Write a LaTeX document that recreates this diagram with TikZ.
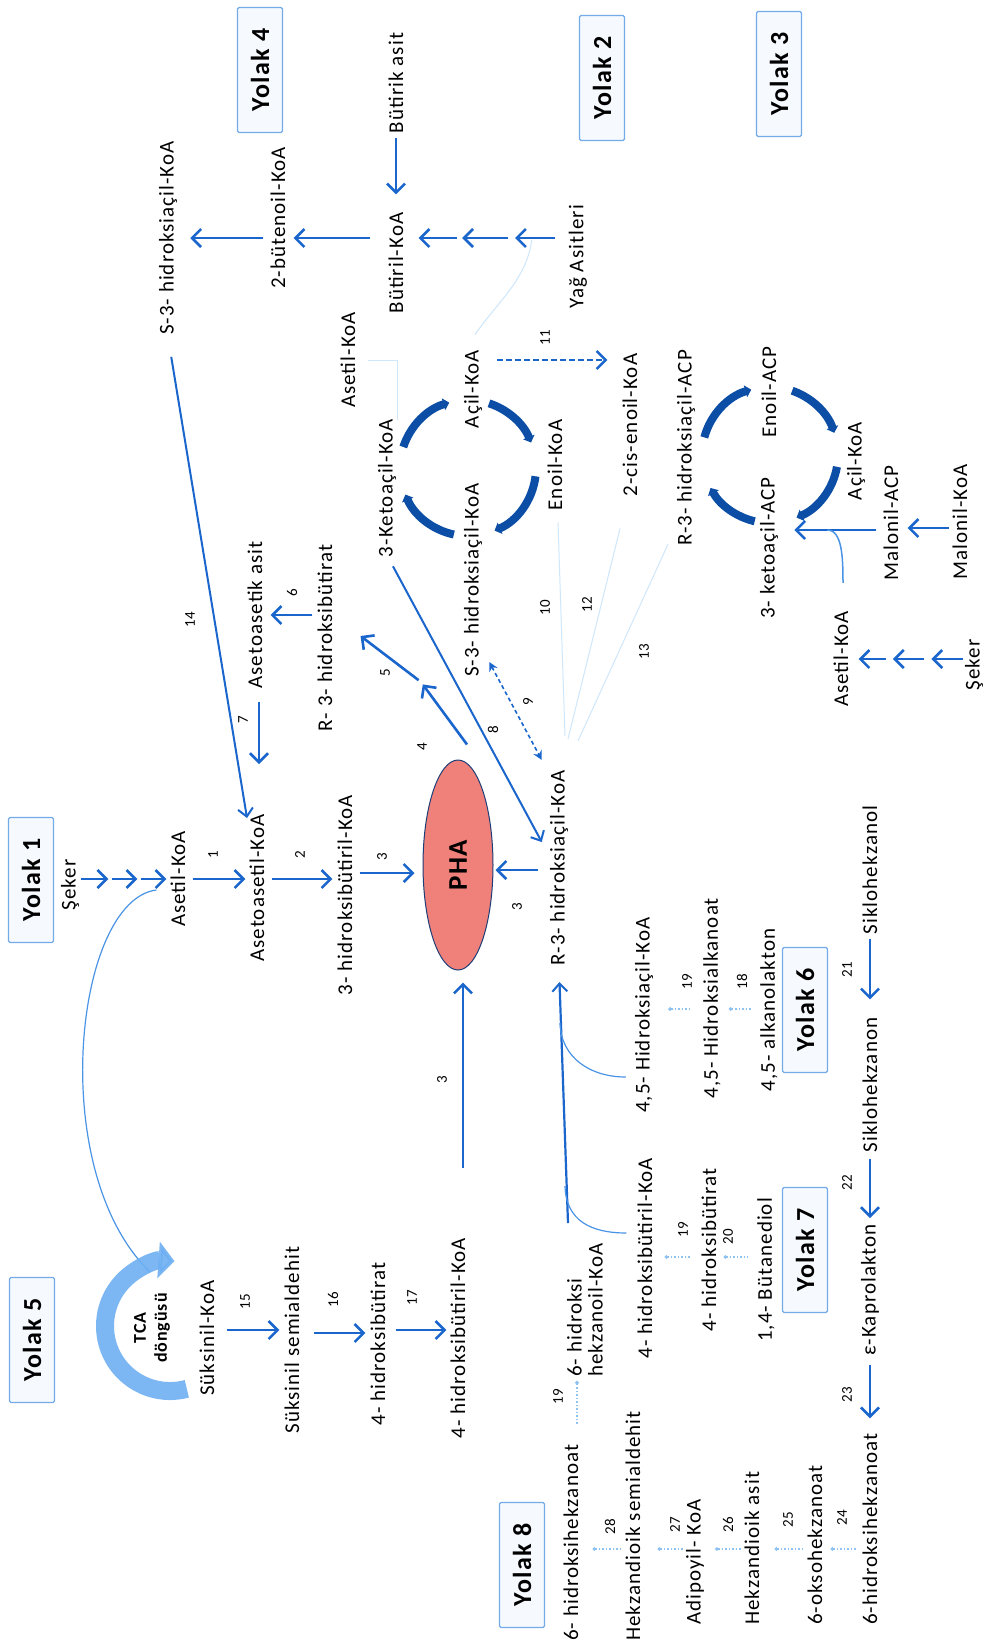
\documentclass[tikz,border=0pt]{standalone}
\usepackage{fontspec}
\setmainfont{Carlito}[LetterSpace=5]
\usetikzlibrary{arrows.meta,calc,shapes.geometric}
\definecolor{arrblue}{HTML}{1A66CC}
\definecolor{cycblue}{HTML}{0C4EA6}
\definecolor{boxline}{HTML}{73AAE8}
\definecolor{boxfill}{HTML}{F6FAFF}
\definecolor{phafill}{HTML}{F0807A}
\definecolor{phaline}{HTML}{1F3E78}
\definecolor{tcablue}{HTML}{6EB0F2}
\definecolor{faint}{HTML}{CFE7FB}
\definecolor{lightblue}{HTML}{4A94E6}
\definecolor{dotblue}{HTML}{8EC2F2}
\begin{document}
\begin{tikzpicture}[x=1pt,y=-1pt,
  lbl/.style={rotate=90, font=\fontsize{21}{24}\selectfont, inner sep=2pt},
  num/.style={rotate=90, font=\fontsize{15}{17}\selectfont, inner sep=1pt},
  yolak/.style={rotate=90, draw=boxline, line width=1.3pt, fill=boxfill,
     font=\bfseries\fontsize{26}{28}\selectfont, minimum width=125pt,
     minimum height=45pt, rounded corners=1.5pt, inner sep=0pt},
  arr/.style={draw=arrblue, line width=2.6pt, -{Straight Barb[length=9pt,width=18pt,line width=2.6pt]}},
  slimarr/.style={draw=arrblue, line width=2pt, -{Straight Barb[length=8pt,width=15pt,line width=2pt]}},
  cyc/.style={draw=cycblue, line width=8pt, -{Triangle[length=6pt,width=12pt]}},
  faintline/.style={draw=faint, line width=1pt},
  curve/.style={draw=lightblue, line width=1.2pt},
  dotc/.style={draw=dotblue, line width=1.3pt, dash pattern=on 1.5pt off 2pt, {Circle[length=3.5pt,fill=lightblue]}-},
]
\useasboundingbox (0,0) rectangle (984,1650);
\fill[white] (0,0) rectangle (984,1650);

% ---------- pathway boxes ----------
\node[yolak] (y4) at (260,70) {Yolak 4};
\node[yolak] (y2) at (602,78) {Yolak 2};
\node[yolak] (y3) at (779,74) {Yolak 3};
\node[yolak] (y1) at (31,880) {Yolak 1};
\node[yolak] (y5) at (32,1340) {Yolak 5};
\node[yolak] (y6) at (805,1010) {Yolak 6};
\node[yolak] (y7) at (805,1250) {Yolak 7};
\node[yolak] (y8) at (522,1565) {Yolak 8};

% ---------- metabolites ----------
\node[lbl] (s3h) at (168,238) {S-3- hidroksiaçil-KoA};
\node[lbl] (but) at (278,218) {2-bütenoil-KoA};
\node[lbl] (butik) at (396,83) {Bütirik asit};
\node[lbl] (butkoa) at (396,263) {Bütiril-KoA};
\node[lbl] (yag) at (578,257) {Yağ Asitleri};
\node[lbl] (aset2) at (348,360) {Asetil-KoA};
\node[lbl] (acil1) at (473,389) {Açil-KoA};
\node[lbl] (cis) at (630,425) {2-cis-enoil-KoA};
\node[lbl] (keto1) at (387,488) {3-Ketoaçil-KoA};
\node[lbl] (s3h2) at (473,580) {S-3- hidroksiaçil-KoA};
\node[lbl] (enoil1) at (555,465) {Enoil-KoA};
\node[lbl] (r3hb) at (325,638) {R- 3- hidroksibütirat};
\node[lbl] (asetik) at (255,615) {Asetoasetik asit};

\node[lbl] (r3acp) at (686,448) {R-3- hidroksiaçil-ACP};
\node[lbl] (enacp) at (769,392) {Enoil-ACP};
\node[lbl] (acil2) at (856,461) {Açil-KoA};
\node[lbl] (keto2) at (769,548) {3- ketoaçil-ACP};
\node[lbl] (malacp) at (891,523) {Malonil-ACP};
\node[lbl] (malkoa) at (960,522) {Malonil-KoA};
\node[lbl] (aset3) at (841,659) {Asetil-KoA};
\node[lbl] (seker2) at (974,665) {Şeker};

\node[lbl] (seker1) at (70,885) {Şeker};
\node[lbl] (aset1) at (178,879) {Asetil-KoA};
\node[lbl] (asetoas) at (257,888) {Asetoasetil-KoA};
\node[lbl] (h3b) at (345,895) {3- hidroksibütiril-KoA};
\node[lbl] (r3h) at (559,868) {R-3- hidroksiaçil-KoA};

\node[lbl] (sikol) at (870,870) {Siklohekzanol};
\node[lbl] (h45) at (644,1015) {4,5- Hidroksiaçil-KoA};
\node[lbl] (h45alk) at (712,998) {4,5- Hidroksialkanoat};
\node[lbl] (alkl) at (769,1010) {4,5- alkanolakton};
\node[lbl] (sikon) at (870,1085) {Siklohekzanon};

\node[lbl] (suks) at (207,1338) {Süksinil-KoA};
\node[lbl] (semi) at (292,1340) {Süksinil semialdehit};
\node[lbl] (h4b) at (378,1344) {4- hidroksibütirat};
\node[lbl] (h4bk) at (458,1338) {4- hidroksibütiril-KoA};

\node[lbl] (h4bk2) at (645,1258) {4- hidroksibütiril-KoA};
\node[lbl] (h4b2) at (709,1250) {4- hidroksibütirat};
\node[lbl] (bdiol) at (766,1270) {1,4- Bütanediol};
\node[lbl] (kapro) at (870,1290) {ε-Kaprolakton};

\node[lbl, align=left, font=\fontsize{21}{21}\selectfont] (h6koa) at (585,1310) {6- hidroksi\\hekzanoil-KoA};
\node[lbl, anchor=west] (h6a) at (571,1643) {6- hidroksihekzanoat};
\node[lbl, anchor=west] (hsemi) at (633,1643) {Hekzandioik semialdehit};
\node[lbl, anchor=west] (adip) at (695,1627) {Adipoyil- KoA};
\node[lbl, anchor=west] (hasit) at (752,1627) {Hekzandioik asit};
\node[lbl, anchor=west] (okso) at (815,1627) {6-oksohekzanoat};
\node[lbl, anchor=west] (h6b) at (870,1627) {6-hidroksihekzanoat};

% ---------- PHA ----------
\node[ellipse, draw=phaline, line width=1pt, fill=phafill, minimum width=70pt,
      minimum height=210pt, inner sep=0pt,
      label={[rotate=90, font=\bfseries\fontsize{27}{29}\selectfont]center:PHA}] (pha) at (458,865) {};

% ---------- step numbers ----------
\node[num] (k1) at (213,855) {1};
\node[num] (k2) at (300,855) {2};
\node[num] (k3a) at (382,857) {3};
\node[num] (k3b) at (517,907) {3};
\node[num] (k3c) at (442,1080) {3};
\node[num] (k4) at (422,747) {4};
\node[num] (k5) at (385,673) {5};
\node[num] (k6) at (292,593) {6};
\node[num] (k7) at (243,720) {7};
\node[num] (k8) at (493,730) {8};
\node[num] (k9) at (528,702) {9};
\node[num] (k10) at (545,608) {10};
\node[num] (k11) at (545,338) {11};
\node[num] (k12) at (587,605) {12};
\node[num] (k13) at (644,652) {13};
\node[num] (k14) at (190,620) {14};
\node[num] (k15) at (245,1302) {15};
\node[num] (k16) at (333,1300) {16};
\node[num] (k17) at (412,1298) {17};
\node[num] (k18) at (742,982) {18};
\node[num] (k19a) at (687,982) {19};
\node[num] (k19b) at (683,1230) {19};
\node[num] (k19c) at (558,1397) {19};
\node[num] (k20) at (728,1237) {20};
\node[num] (k21) at (847,970) {21};
\node[num] (k22) at (847,1183) {22};
\node[num] (k23) at (847,1395) {23};
\node[num] (k24) at (842,1518) {24};
\node[num] (k25) at (788,1520) {25};
\node[num] (k26) at (728,1525) {26};
\node[num] (k27) at (675,1525) {27};
\node[num] (k28) at (610,1527) {28};

% ---------- beta-oxidation and fatty acid synthesis cycles ----------
\coordinate (c1) at (468,468);
\foreach \a/\b in {198/254, 288/338, 7/67, 102/157}
  \draw[cyc] ($(c1)+(\a:68)$) arc[start angle=\a, end angle=\b, radius=68];
\coordinate (c2) at (770,455);
\foreach \a/\b in {195/254, 289/341, 10/67, 103/151}
  \draw[cyc] ($(c2)+(\a:68)$) arc[start angle=\a, end angle=\b, radius=68];

% ---------- Yolak 1 ----------
\path (seker1.south |- aset1) -- (aset1.north) coordinate[pos=.333] (sk1) coordinate[pos=.667] (sk2);
\draw[arr, shorten >=2pt] (seker1.south |- aset1) -- (sk1);
\draw[arr, shorten <=2pt, shorten >=2pt] (sk1) -- (sk2);
\draw[arr, shorten <=2pt, shorten >=2pt] (sk2) -- (aset1.north);
\draw[arr, shorten <=5pt, shorten >=2pt] (aset1.south) -- (asetoas.north |- aset1.south);
\draw[arr, shorten <=5pt, shorten >=3pt] (asetoas.south |- aset1.south) -- (h3b.north |- aset1.south);
\draw[arr, shorten <=5pt, shorten >=8pt] ([yshift=22pt]h3b.south) -- ([yshift=22pt]h3b.south -| pha.west);
\draw[arr, shorten <=10pt, shorten >=2pt] ([yshift=-2pt]r3h.north) -- ([yshift=-2pt]r3h.north -| pha.east);
\coordinate (l3) at (463,1168);
\draw[arr, shorten >=12pt] (l3) -- (l3 |- pha.south);

% ---------- Yolak 4 ----------
\draw[arr, shorten <=3pt, shorten >=16pt] (butik.west) -- (butkoa.east);
\draw[arr, shorten <=16pt, shorten >=6pt] (butkoa.north |- s3h) -- (but.south |- s3h);
\draw[arr, shorten <=5pt, shorten >=11pt] (but.north |- s3h) -- (s3h.south);
\draw[slimarr, shorten <=20pt] (s3h.west) -- ($(asetoas.east)+(-10,6)$);
\draw[arr, shorten <=3pt, shorten >=6pt] (r3hb.north |- asetik) -- (asetik.south);
\coordinate (a7) at (259,764);
\draw[arr, shorten <=11pt] (asetik.west -| a7) -- (a7);

% ---------- Yolak 2 ----------
\path (yag.north |- s3h) -- (butkoa.south |- s3h) coordinate[pos=.333] (ya1) coordinate[pos=.667] (ya2);
\draw[arr, shorten <=12pt, shorten >=2pt] (yag.north |- s3h) -- (ya1);
\draw[arr, shorten <=5pt, shorten >=3pt] (ya1) -- (ya2);
\draw[arr, shorten <=2pt, shorten >=13pt] (ya2) -- (butkoa.south |- s3h);
\draw[arr, dash pattern=on 6pt off 3pt, shorten <=13pt, shorten >=13pt] (acil1.south |- aset2) -- (cis.north |- aset2);
\coordinate (m45) at (421,682);
\draw[arr, shorten >=3pt] ([xshift=9pt,yshift=15pt]pha.north) -- (m45);
\draw[arr, shorten <=3pt] (m45) -- ($(r3hb.south)+(26,-2)$);
\draw[slimarr] ($(keto1.west)+(6,7)$) -- ($(r3h.north)+(-6,-26)$);
\draw[draw=arrblue, line width=1.6pt, dash pattern=on 4pt off 3pt,
      {Stealth[length=9pt,width=9pt]}-{Stealth[length=9pt,width=9pt]}]
      ($(s3h2.south)+(5,82)$) -- ($(r3h.north east)+(-6,-8)$);

% faint links to the central intermediate
\coordinate (conv) at ($(r3h.east)+(6,-32)$);
\draw[faintline] ($(enoil1.west)+(3,10)$) -- (conv);
\draw[faintline] ($(cis.west)+(-10,30)$) -- ($(conv)+(3,3)$);
\draw[faintline] ($(r3acp.west)+(-18,-4)$) -- ($(conv)+(13,5)$);
\draw[faintline] ($(aset2.south)+(10,0)$) -- ($(aset2.south)+(40,0)$) -- ++(0,60);
\draw[faintline] ($(yag.north)+(-35,-17)$) .. controls +(-5,40) and +(20,-30) .. ($(acil1.east)+(2,-13)$);

% ---------- Yolak 3 ----------
\draw[arr, shorten <=1pt, shorten >=7pt] ([yshift=-6pt]malkoa.north) -- ([yshift=-6pt]malkoa.north -| malacp.south);
\draw[arr, shorten <=5pt, shorten >=14pt] ([yshift=-7pt]malacp.north) -- ([yshift=-7pt]malacp.north -| keto2.south);
\draw[curve, line width=1.5pt] ($(aset3.east)+(2,-26)$) .. controls +(0,-25) and +(15,0) .. ($(keto2.south)+(47,-18)$);
\path (seker2.north |- aset3) -- (aset3.south) coordinate[pos=.333] (sq1) coordinate[pos=.667] (sq2);
\draw[arr, shorten >=6pt] (seker2.north |- aset3) -- (sq1);
\draw[arr, shorten <=1pt, shorten >=5pt] (sq1) -- (sq2);
\draw[arr, shorten <=2pt, shorten >=8pt] (sq2) -- (aset3.south);

% ---------- Yolak 5 ----------
\draw[curve] ($(aset1.north)+(-12,11)$) .. controls (75,900) and (45,1170) .. (150,1272);
\coordinate (tcac) at (170,1326);
\draw[tcablue, opacity=0.9, line width=18pt, -{Triangle[length=16pt,width=36pt]}]
  ($(tcac)+(75:65)$) arc[start angle=75, end angle=274, radius=65];
\node[rotate=90, align=center, font=\bfseries\fontsize{18}{21}\selectfont, inner sep=0pt] (tca) at (152,1328) {TCA\\döngüsü};
\draw[arr, shorten <=10pt, shorten >=3pt] ([yshift=8pt]suks.south) -- ([yshift=8pt]suks.south -| semi.north);
\draw[arr, shorten <=12pt, shorten >=3pt] ([yshift=7pt]semi.south) -- ([yshift=7pt]semi.south -| h4b.north);
\draw[arr, shorten <=8pt, shorten >=2pt] ([yshift=14pt]h4b.south) -- ([yshift=14pt]h4b.south -| h4bk.north);

% ---------- Yolak 6 / 7 / 8 ----------
\draw[arr, shorten <=3pt, shorten >=16pt] (sikol.west) -- (sikon.east);
\draw[arr, shorten <=4pt, shorten >=4pt] (sikon.west) -- (kapro.east);
\draw[arr, shorten <=7pt, shorten >=13pt] (kapro.west) -- (h6b.east);

\draw[slimarr, line width=2.2pt, shorten >=14pt] ($(h6koa.east)+(-17,-18)$) -- (r3h.west);
\draw[curve] ($(r3h.west)+(1,55)$) .. controls +(1,35) and +(-35,0) .. ($(h45.north)+(-7,62)$);
\draw[curve] ($(r3h.west)+(6,218)$) .. controls +(1,35) and +(-35,0) .. ($(h4bk2.north)+(-9,-25)$);

\draw[dotc] ($(h45.south)+(13,-6)$) -- ($(h45alk.north)+(-10,11)$);
\draw[dotc] ($(h45alk.south)+(6,11)$) -- ($(alkl.north)+(-7,-1)$);
\draw[dotc] ($(h4bk2.south)+(10,-1)$) -- ($(h4b2.north)+(-8,7)$);
\draw[dotc] ($(h4b2.south)+(5,7)$) -- ($(bdiol.north)+(-7,-13)$);
\draw[dotc] ($(h6koa.west)+(-8,2)$) -- ($(h6a.east)+(6,-18)$);
\coordinate (row) at (0,1549);
\draw[dotc, shorten <=12pt, shorten >=3pt] (h6a.south |- row) -- (hsemi.north |- row);
\draw[dotc, shorten <=15pt, shorten >=1pt] (hsemi.south |- row) -- (adip.north |- row);
\draw[dotc, shorten <=9pt, shorten >=1pt] (adip.south |- row) -- (hasit.north |- row);
\draw[dotc, shorten <=13pt, shorten >=3pt] (hasit.south |- row) -- (okso.north |- row);
\draw[dotc, shorten <=6pt, shorten >=3pt] (okso.south |- row) -- (h6b.north |- row);
\end{tikzpicture}
\end{document}
